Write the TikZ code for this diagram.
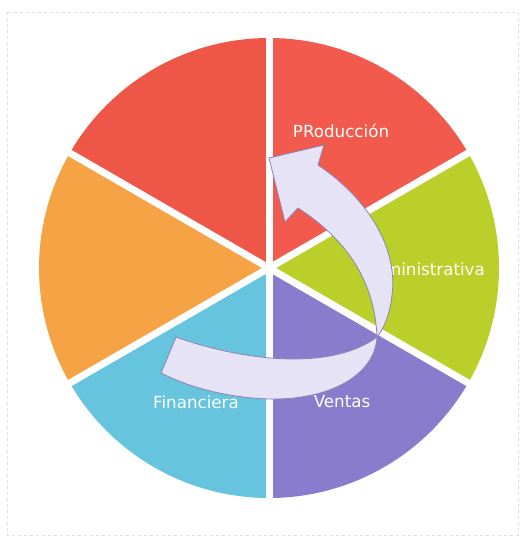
\documentclass[tikz,border=0pt]{standalone}
\usepackage{fontspec}
\setmainfont{DejaVu Sans}
\usetikzlibrary{positioning}
\definecolor{redA}{RGB}{238,86,72}
\definecolor{redB}{RGB}{241,90,76}
\definecolor{orangeseg}{RGB}{245,163,68}
\definecolor{greenseg}{RGB}{186,207,42}
\definecolor{purpleseg}{RGB}{138,124,204}
\definecolor{blueseg}{RGB}{102,196,222}
\definecolor{arrowfill}{RGB}{231,227,246}
\definecolor{arrowline}{RGB}{140,130,176}

\begin{document}
\begin{tikzpicture}[
x=1pt, y=-1pt,
gap/.style={
draw=white,
line width=7pt
},
lbl/.style={
text=white,
inner sep=0pt,
font=\fontsize{16.7}{18}\selectfont
},
ribbon/.style={
fill=arrowfill,
draw=arrowline,
line width=0.8pt,
line join=round
}
]

\useasboundingbox (0,0) rectangle (525,540);
\draw [gray!25, dashed] (7,12) rectangle (518,535);

\coordinate (ctr) at (269,268);

\foreach \a/\c in {-90/redB, -150/redA, 150/orangeseg, 90/blueseg, 30/purpleseg, -30/greenseg}
\fill [\c] (ctr) -- ++(\a:230) arc [start angle=\a, end angle=\a+60, radius=230] -- cycle;

\foreach \a in {30,90,...,330}
\draw [gap] (ctr) -- ++(\a:236);

\node (prod) [lbl] at (341,131) {PRoducción};
\node (admin) [lbl, anchor=east] at (485,269) {Administrativa};
\node (fin) [lbl] at (196,402) {Financiera};
\node (ventas) [lbl] at (342,402) {Ventas};

\coordinate (tailtop) at (176,337);
\coordinate (tailbot) at (161,373);
\coordinate (twist) at (377,337);
\coordinate (tip) at (269,158);

\draw [ribbon] (tailtop)
.. controls (240,360) and (330,372) .. (twist)
.. controls (375,290) and (355,245) .. (298,208)
-- (285,222) -- (tip) -- (324,145) -- (318,165)
.. controls (370,200) and (398,250) .. (392,295)
.. controls (390,315) and (383,330) .. (twist)
.. controls (375,375) and (330,400) .. (270,399)
.. controls (230,398) and (190,388) .. (tailbot)
-- cycle;

\end{tikzpicture}
\end{document}
